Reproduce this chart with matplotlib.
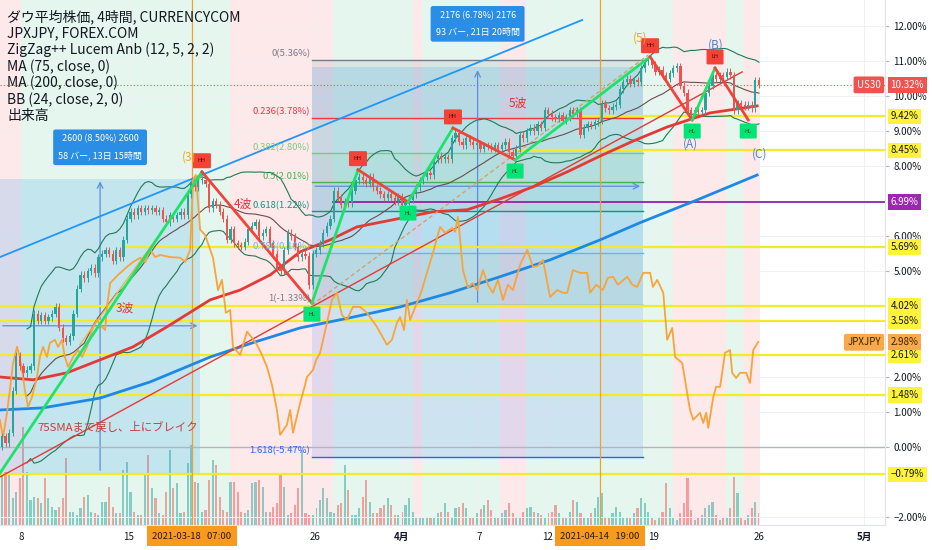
import numpy as np
import pandas as pd
import matplotlib
matplotlib.use("Agg")
import matplotlib.pyplot as plt

plt.rcParams['font.family'] = ['Noto Sans CJK JP', 'DejaVu Sans']
plt.rcParams['axes.unicode_minus'] = True

# --- data (bar index = one 4h candle, values in % on TradingView percent scale) ---
open0 = 0.0
closes = [
    0.3, 0.1, 0.4, 1.6, 2.6, 2.3, 2.1, 2.2, 2.3, 3.8,
    3.6, 3.75, 3.6, 3.7, 3.8, 4.0, 3.4, 3.1, 3.0, 3.15,
    3.8, 4.5, 4.9, 4.8, 5.0, 5.1, 4.95, 5.4, 5.5, 5.6,
    5.5, 5.3, 5.6, 5.4, 5.9, 6.5, 6.7, 6.6, 6.8, 6.7,
    6.8, 6.75, 6.8, 6.7, 6.75, 6.5, 6.4, 6.6, 6.5, 6.6,
    6.7, 6.6, 7.2, 7.5, 7.4, 7.6, 7.6, 7.5, 6.8, 7.0,
    6.9, 6.7, 6.5, 5.9, 6.2, 5.8, 5.75, 5.7, 5.85, 6.2,
    6.3, 6.4, 6.0, 6.1, 6.2, 5.8, 5.5, 5.1, 5.0, 5.6,
    6.1, 6.0, 5.7, 5.4, 5.5, 5.45, 4.6, 5.5, 5.6, 5.8,
    6.1, 6.3, 6.5, 7.3, 7.1, 6.9, 7.0, 6.95, 7.3, 7.6,
    7.7, 7.6, 7.5, 7.7, 7.4, 7.3, 7.2, 7.1, 7.2, 7.1,
    7.0, 7.15, 6.9, 7.0, 7.05, 7.2, 7.4, 7.6, 7.7, 7.8,
    7.75, 8.2, 8.3, 8.2, 8.25, 8.2, 8.8, 8.95, 8.7, 8.6,
    8.8, 8.7, 8.6, 8.65, 8.5, 8.6, 8.55, 8.5, 8.6, 8.5,
    8.6, 8.7, 8.4, 8.3, 8.5, 8.9, 8.8, 9.0, 9.1, 9.0,
    9.2, 9.1, 9.6, 9.5, 9.4, 9.35, 9.45, 9.3, 9.4, 9.6,
    9.5, 9.6, 8.9, 9.1, 9.2, 9.15, 9.25, 9.3, 9.8, 9.65,
    9.6, 9.7, 9.75, 10.2, 10.4, 10.5, 10.35, 10.45, 10.4, 10.8,
    11.0, 11.0, 10.9, 10.7, 10.75, 10.6, 10.5, 10.65, 10.8, 10.85,
    10.3, 10.1, 9.6, 9.5, 9.6, 9.55, 9.6, 10.1, 10.3, 10.6,
    10.5, 10.6, 10.55, 10.7, 10.6, 9.6, 9.8, 9.75, 9.7, 9.75,
    9.65, 10.45, 10.32,
]

volume = [
    50, 53, 50, 27, 33, 47, 98, 53, 25, 28,
    27, 22, 47, 27, 18, 15, 18, 27, 67, 13,
    13, 10, 17, 28, 30, 13, 12, 10, 23, 23,
    38, 18, 12, 12, 55, 63, 33, 13, 10, 10,
    50, 70, 37, 27, 12, 10, 33, 75, 37, 42,
    12, 13, 62, 80, 43, 42, 13, 15, 45, 65,
    60, 28, 15, 13, 43, 43, 33, 13, 12, 15,
    42, 43, 45, 38, 13, 13, 18, 22, 52, 38,
    10, 12, 20, 37, 75, 12, 10, 10, 17, 25,
    37, 27, 13, 12, 20, 22, 60, 35, 10, 10,
    17, 28, 45, 23, 12, 12, 17, 20, 27, 20,
    10, 10, 13, 20, 27, 13, 7, 7, 7, 8,
    8, 7, 12, 13, 22, 13, 8,
    17, 18, 22, 17, 8, 8, 12, 16, 20, 25,
    15, 8, 7, 12, 15, 22, 12, 8, 8, 13,
    17, 18, 13, 12, 10, 7, 12, 13, 20, 12,
    7, 7, 13, 25, 23, 12, 8, 7, 12, 17,
    28, 32, 8, 8, 12, 18, 13, 7, 7, 7,
    12, 17, 27, 22, 13, 7, 5, 7, 13, 42,
    17, 7, 5, 12, 22, 47, 15, 5, 7, 10,
    17, 20, 23, 10, 5, 7, 8, 17, 48, 32,
    7, 5, 10, 17, 23, 12,
]

jpx_points = [
    (-0.6, 0.77), (0.3, 0.28), (1.4, 0.97), (2.2, 1.62), (3.1, 2.39), (4.2, 2.85),
    (5.0, 2.56), (5.6, 2.19), (6.4, 1.62), (7.3, 1.14), (8.4, 1.42), (9.8, 1.99),
    (10.6, 2.56), (11.5, 2.85), (12.6, 2.56), (13.4, 2.96), (14.8, 3.05), (15.7, 2.85),
    (16.8, 3.05), (17.6, 2.56), (18.5, 2.28), (19.9, 2.56), (21.3, 2.76), (22.4, 2.56),
    (23.8, 2.85), (25.2, 3.33), (26.6, 3.62), (28.0, 3.42), (28.9, 3.33), (29.4, 3.99),
    (30.3, 4.67), (32.5, 4.90), (35.0, 5.13), (36.7, 5.27), (38.7, 5.39), (40.1, 5.27),
    (41.5, 5.62), (42.9, 5.41), (44.3, 5.47), (47.1, 5.41), (49.9, 5.39), (51.3, 5.27),
    (52.7, 5.62), (53.5, 7.61), (54.3, 7.75), (55.5, 6.19), (56.9, 6.04), (58.3, 5.62),
    (59.1, 5.39), (60.5, 4.47), (61.6, 4.76), (62.7, 3.82), (63.9, 3.90), (64.7, 2.85),
    (66.7, 2.62), (68.6, 3.28), (70.0, 3.11), (71.4, 2.91), (72.8, 2.62), (74.2, 2.28),
    (75.6, 1.77), (77.0, 1.05), (77.9, 0.34), (79.8, 0.63), (80.7, 1.05), (81.5, 0.40),
    (83.5, 1.25), (84.9, 1.77), (85.4, 1.99), (87.1, 2.19), (88.0, 2.48), (89.1, 2.68),
    (91.0, 3.53), (92.4, 4.19), (93.8, 4.39), (95.2, 3.76), (96.6, 3.62), (98.3, 3.99),
    (100.3, 3.99), (102.2, 3.82), (103.6, 3.62), (105.0, 3.42), (106.7, 3.11), (107.8, 2.91),
    (109.2, 3.05), (110.6, 3.53), (111.5, 3.70), (112.6, 3.33), (113.4, 4.19), (114.3, 3.62),
    (116.2, 4.10), (117.6, 4.47), (119.0, 4.96), (120.7, 5.53), (122.7, 6.27), (124.1, 6.10),
    (126.1, 6.24), (126.9, 6.13), (127.7, 6.56), (129.1, 5.04), (130.5, 4.53), (131.8, 4.67),
    (133.1, 4.47), (134.7, 5.04), (136.1, 4.62), (137.5, 4.39), (138.9, 4.76), (140.3, 4.19),
    (141.7, 4.62), (143.1, 4.47), (145.1, 5.19), (147.1, 5.62), (148.7, 5.13), (150.1, 5.16),
    (151.5, 5.33), (153.5, 4.27), (155.5, 4.47), (157.1, 4.39), (158.3, 4.39), (159.9, 5.04),
    (161.9, 4.96), (163.9, 4.96), (164.7, 4.39), (166.4, 4.62), (168.3, 4.47), (169.7, 4.82),
    (171.1, 4.85), (172.5, 4.62), (175.1, 4.85), (176.5, 4.62), (177.9, 4.56), (179.6, 4.96),
    (181.5, 4.96), (182.3, 4.56), (183.5, 4.76), (185.2, 4.39), (186.3, 3.05), (187.7, 3.39),
    (188.5, 2.56), (190.5, 2.39), (191.3, 1.91), (192.2, 1.34), (192.7, 1.05), (193.6, 0.77),
    (195.5, 0.97), (196.4, 0.68), (197.2, 0.97), (197.8, 0.54), (199.2, 1.42), (200.0, 1.71),
    (201.1, 1.71), (201.9, 2.25), (202.5, 2.68), (203.9, 2.76), (204.5, 2.11), (205.6, 1.96),
    (206.7, 2.11), (208.4, 2.11), (209.5, 1.82), (210.4, 2.76), (211.8, 2.99),
]

ma75_points = [
    (-0.56, 1.99), (8.7, 1.91), (18.2, 2.11), (27.5, 2.48), (36.7, 2.85), (46.2, 3.42),
    (58.3, 4.19), (66.7, 4.47), (75.1, 4.90), (83.5, 5.56), (91.9, 5.90), (99.4, 6.27),
    (112.3, 6.53), (120.7, 6.70), (130.3, 6.76), (139.5, 7.07), (148.7, 7.41), (158.3, 7.84),
    (167.5, 8.29), (176.8, 8.72), (186.3, 9.12), (198.3, 9.52), (211.5, 9.72),
]
ma200_points = [
    (-0.56, 1.05), (11.5, 1.11), (27.5, 1.39), (41.5, 1.85), (58.3, 2.56), (70.9, 2.99),
    (83.5, 3.39), (97.5, 3.68), (111.5, 3.99), (125.5, 4.39), (139.5, 4.85), (153.5, 5.33),
    (167.5, 5.90), (178.7, 6.39), (194.7, 7.04), (211.5, 7.75),
]

# zigzag pivots
zz_bar = [-0.56, 56.0, 86.8, 99.7, 113.7, 126.3, 143.7, 181.5, 193.3, 199.7, 209.0]
zz_val = [-0.75, 7.84, 4.10, 7.90, 6.98, 9.09, 8.18, 11.12, 9.32, 10.80, 9.32]
zz_tags = ['', 'HH', 'HL', 'HH', 'HL', 'HH', 'HL', 'HH', 'HL', 'LH', 'HL']

# trend lines (start/end)
blue_channel = [(-0.56, 5.41), (162.5, 12.17)]
red_trend = [(-0.56, -0.86), (207.3, 10.69)]
orange_dash = [(86.8, 4.04), (181.0, 11.17)]
orange_thin = [(21.8, 2.91), (55.5, 7.67)]

# horizontal rays: (level, start bar)
yellow_levels = [(9.42, 162), (8.45, 144.3), (5.69, 34), (4.02, -0.56), (3.58, -0.56),
                 (2.61, -0.56), (1.48, -0.56), (-0.79, -0.56)]
purple_level = (6.99, 92.7)
last_price = 10.32
jpx_last = 2.98

# fib retracement
fib_top, fib_bottom = 11.04, 4.04
fib_start, fib_end = 86.9, 179.5
fib_ratios = [0, 0.236, 0.382, 0.5, 0.618, 0.786, 1, 1.618]
fib_labels = ['0(5.36%)', '0.236(3.78%)', '0.382(2.80%)', '0.5(2.01%)', '0.618(1.22%)',
              '0.786(0.10%)', '1(-1.33%)', '1.618(-5.47%)']
fib_colors = ['#787b86', '#f23645', '#81c784', '#4caf50', '#089981', '#64b5f6', '#787b86', '#2962ff']

# price/date range boxes: (bar0, bar1, low, high, label y, text)
ranges = [
    (-0.56, 55.5, -0.75, 7.65, 8.54, '2600 (8.50%) 2600\n58 バー, 13日 15時間'),
    (86.9, 179.5, 4.04, 10.82, 12.06, '2176 (6.78%) 2176\n93 バー, 21日 20時間'),
]

# background session bands
bands = [(-0.56, 5.6, 'r'), (5.6, 63.9, 'g'), (63.9, 92.7, 'r'), (92.7, 115.1, 'g'),
         (115.1, 117.6, 'r'), (117.6, 139.5, 'g'), (139.5, 146.8, 'r'), (146.8, 188.0, 'g'),
         (188.0, 202.8, 'r'), (202.8, 207.6, 'g'), (207.6, 212.3, 'r')]

ytick_vals = [-2, 0, 1, 2, 5, 6, 8, 9, 10, 11, 12]
xtick_pos = [5.3, 35.3, 87.7, 111.8, 133.6, 152.7, 182.4, 212.0, 241.5]
xtick_lab = ['8', '15', '26', '4月', '7', '12', '19', '26', '5月']
date_marks = [(53.2, '2021-03-18   07:00'), (167.5, '2021-04-14   19:00')]

legend_lines = ['ダウ平均株価, 4時間, CURRENCYCOM', 'JPXJPY, FOREX.COM',
                'ZigZag++ Lucem Anb (12, 5, 2, 2)', 'MA (75, close, 0)',
                'MA (200, close, 0)', 'BB (24, close, 2, 0)', '出来高']

# --- figure ---
GREEN, RED = '#26a69a', '#ef5350'
fig = plt.figure(figsize=(9.32, 5.5), dpi=100)
rect = [0, 25 / 550, 885 / 932, 525 / 550]
ax_v = fig.add_axes(rect)
ax = fig.add_axes(rect, sharex=ax_v)
ax_v.set_zorder(0)
ax.set_zorder(1)
ax.patch.set_alpha(0)

c = np.array(closes)
o = np.r_[open0, c[:-1]]
idx = np.arange(len(c))
up = c >= o
cols = np.where(up, GREEN, RED)

# bands + volume on the back axes
for a, b, k in bands:
    ax_v.axvspan(a, b, color='#fde8ea' if k == 'r' else '#e4f6ee', lw=0)
ax_v.bar(idx, volume, width=0.6, color=cols, alpha=0.5)
ax_v.set_ylim(0, 525)
ax_v.axis('off')

ax.set_xlim(-0.56, 247.3)
ax.set_ylim(-2.23, 12.74)

# fib zones
lv = [fib_top - r * (fib_top - fib_bottom) for r in fib_ratios]
for i in range(len(lv) - 1):
    ax.fill_between([fib_start, fib_end], lv[i], lv[i + 1], color=fib_colors[i if i == 0 else i + 1],
                    alpha=0.12, lw=0, zorder=1)
for v, lab, col in zip(lv, fib_labels, fib_colors):
    ax.plot([fib_start, fib_end], [v, v], color=col, lw=1, zorder=2)
    ax.text(fib_start - 0.6, v + 0.04, lab, color=col, fontsize=6.8, ha='right', va='bottom', zorder=8)

# range boxes
for b0, b1, lo_, hi_, ylab, txt in ranges:
    ax.fill_between([b0, b1], lo_, hi_, color='#2196f3', alpha=0.17, lw=0, zorder=1)
    xm = (b0 + b1) / 2
    ym = (lo_ + hi_) / 2
    ax.annotate('', xy=(xm, hi_), xytext=(xm, lo_),
                arrowprops=dict(arrowstyle='->', color='#5b8fd6', lw=0.9), zorder=2)
    ax.annotate('', xy=(b1, ym), xytext=(b0, ym),
                arrowprops=dict(arrowstyle='->', color='#5b8fd6', lw=0.9), zorder=2)
    ax.text(xm, ylab, txt, color='white', fontsize=6.5, ha='center', va='center',
            linespacing=1.9, zorder=9,
            bbox=dict(boxstyle='round,pad=0.55,rounding_size=0.25', fc='#2a8de6', ec='none'))

# horizontal levels
for v, s in yellow_levels:
    ax.plot([s, 247.3], [v, v], color='#f5ea2a', lw=1.6, zorder=2)
ax.plot([purple_level[1], 247.3], [purple_level[0]] * 2, color='#8e24aa', lw=1.3, zorder=2)
ax.axhline(0, color='#b2b5be', lw=1, zorder=2)
ax.axhline(last_price, color=RED, lw=0.8, ls=(0, (1, 2)), zorder=2)
for b, _ in date_marks:
    ax.axvline(b, color='#f0a030', lw=0.9, zorder=2)

# bollinger bands
s = pd.Series(c)
mid = s.rolling(24, min_periods=8).mean()
sd = s.rolling(24, min_periods=8).std(ddof=0)
ax.plot(idx, mid + 2 * sd, color='#1f7a55', lw=0.8, zorder=3)
ax.plot(idx, mid - 2 * sd, color='#1f7a55', lw=0.8, zorder=3)
ax.plot(idx, mid, color='#6d4c4c', lw=0.8, zorder=3)

# moving averages
ax.plot(*zip(*ma200_points), color='#1e88e5', lw=2, zorder=3)
ax.plot(*zip(*ma75_points), color='#e53935', lw=2, zorder=3)

# trend lines
ax.plot(*zip(*blue_channel), color='#2196f3', lw=1.3, zorder=3)
ax.plot(*zip(*red_trend), color='#e53935', lw=1, zorder=3)
ax.plot(*zip(*orange_dash), color='#d9a066', lw=1, ls=(0, (3, 2)), zorder=3)
ax.plot(*zip(*orange_thin), color='#f5b041', lw=0.9, zorder=3)

# JPXJPY line
ax.plot(*zip(*jpx_points), color='#f7a43b', lw=1.3, zorder=4)

# candles
wick = 0.1
hi = np.maximum(o, c) + wick
lo = np.minimum(o, c) - wick
body = np.where(np.abs(c - o) < 0.03, 0.03, c - o)
ax.vlines(idx, lo, hi, colors=cols, lw=0.7, zorder=5)
ax.bar(idx, body, bottom=o, width=0.62, color=cols, zorder=5)

# zigzag
for i in range(len(zz_bar) - 1):
    col = '#1ee36a' if zz_val[i + 1] > zz_val[i] else '#f0433a'
    ax.plot(zz_bar[i:i + 2], zz_val[i:i + 2], color=col, lw=2, zorder=6)
for b, v, t in zip(zz_bar, zz_val, zz_tags):
    if not t:
        continue
    top = t in ('HH', 'LH')
    ax.annotate(t, xy=(b, v), xytext=(0, 8 if top else -8), textcoords='offset points',
                ha='center', va='center', fontsize=4, color='#5a0000' if top else '#004a20',
                zorder=7, bbox=dict(boxstyle='round,pad=0.9,rounding_size=0.2',
                                    fc='#f44336' if top else '#00e676', ec='none'))

# wave labels
for b, v, t, col in [(52.3, 8.27, '(3)', '#f5a623'), (178.6, 11.66, '(5)', '#f5a623'),
                     (192.7, 8.64, '(A)', '#4a86c8'), (200.0, 11.45, '(B)', '#4a86c8'),
                     (212.3, 8.35, '(C)', '#4a86c8')]:
    ax.text(b, v, t, color=col, fontsize=8.5, ha='center', va='center', zorder=8)
for b, v, t in [(34.5, 3.96, '3波'), (67.4, 6.92, '4波'), (144.5, 9.81, '5波')]:
    ax.text(b, v, t, color='#e0303a', fontsize=8.5, ha='center', va='center', zorder=8)
ax.text(9.8, 0.57, '75SMAまで戻し、上にブレイク', color='#c83c3c', fontsize=8.2,
        ha='left', va='center', zorder=8)

# legend block
for k, line in enumerate(legend_lines):
    ax.text(7 / 885, 1 - (17 + 16.5 * k) / 525, line, transform=ax.transAxes,
            fontsize=10, color='#131722', ha='left', va='center', zorder=10)

# axes styling
ax.yaxis.tick_right()
ax.set_yticks(ytick_vals)
ax.set_yticklabels([f'{v:.2f}%'.replace('-', '−') for v in ytick_vals])
ax.set_xticks(xtick_pos)
ax.set_xticklabels(xtick_lab)
for lab in ax.get_xticklabels():
    if '月' in lab.get_text():
        lab.set_fontweight('bold')
ax.tick_params(axis='y', labelsize=7, colors='#131722', length=3, pad=3, color='#b2b5be')
ax.tick_params(axis='x', labelsize=7, colors='#131722', length=0, pad=5)
ax.grid(color='#eef0f5', lw=0.7, zorder=0)
ax.set_axisbelow(True)
for side in ['top', 'left']:
    ax.spines[side].set_visible(False)
ax.spines['right'].set_color('#e0e3eb')
ax.spines['bottom'].set_color('#e0e3eb')


def tag(v, text, fc, tc='white', left=None):
    ax.annotate(text, xy=(1, v), xycoords=('axes fraction', 'data'), xytext=(4, 0),
                textcoords='offset points', ha='left', va='center', fontsize=7, color=tc,
                annotation_clip=False, zorder=20,
                bbox=dict(boxstyle='square,pad=0.3', fc=fc, ec='none'))
    if left:
        ax.annotate(left, xy=(1, v), xycoords=('axes fraction', 'data'), xytext=(-3, 0),
                    textcoords='offset points', ha='right', va='center', fontsize=7, color=tc,
                    annotation_clip=False, zorder=20,
                    bbox=dict(boxstyle='round,pad=0.35,rounding_size=0.2', fc=fc, ec='none'))


tag(last_price, f'{last_price:.2f}%', RED, 'white', 'US30')
for v, _ in yellow_levels:
    tag(v, f'{v:.2f}%'.replace('-', '−'), '#fff23a', '#131722')
tag(purple_level[0], f'{purple_level[0]:.2f}%', '#9c27b0', 'white')
tag(jpx_last, f'{jpx_last:.2f}%', '#f7a94b', '#3a2400', 'JPXJPY')

for b, t in date_marks:
    ax.annotate(t, xy=(b, 0), xycoords=('data', 'axes fraction'), xytext=(0, -8),
                textcoords='offset points', ha='center', va='center', fontsize=6.8,
                color='#2b1a00', annotation_clip=False, zorder=20,
                bbox=dict(boxstyle='square,pad=0.55', fc='#f89a1c', ec='none'))

fig.savefig('out.png', dpi=100)
